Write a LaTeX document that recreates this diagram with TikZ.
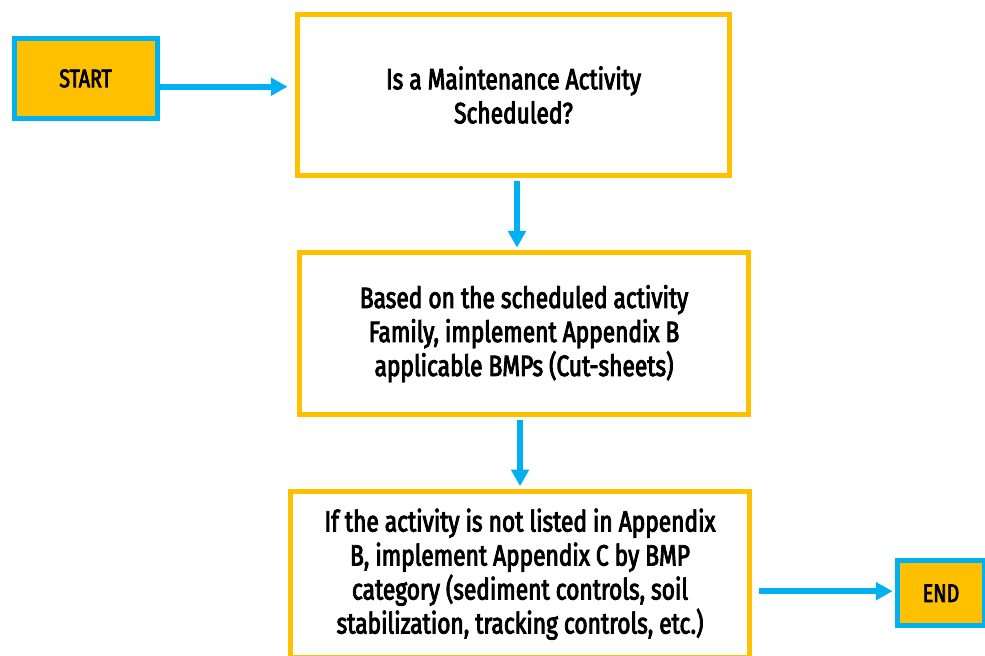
\documentclass[tikz,border=0pt]{standalone}
\usepackage{fontspec}
\setmainfont{Fira Sans}[FakeStretch=0.775,FakeBold=3]
\usepackage{tikz}
\usetikzlibrary{positioning}
\usetikzlibrary{arrows.meta}
\usepackage{xcolor}
\definecolor{flowblue}{HTML}{00B0F0}
\definecolor{flowgold}{HTML}{FFC000}

\begin{document}
\begin{tikzpicture}[x=0.75pt,y=-0.75pt,on grid,
    every node/.style={font=\fontsize{22}{25.5}\selectfont},
    stepbox/.style={draw=flowgold,line width=3.75pt,fill=white,align=center,inner sep=0pt},
    endbox/.style={draw=flowblue,line width=3.75pt,fill=flowgold,inner sep=0pt,font=\fontsize{19}{20}\selectfont},
    flow/.style={draw=flowblue,line width=4.2pt,-{Triangle[length=12.5pt,width=13pt]}}]

        \useasboundingbox (0,0) rectangle (985,656);

        \node[stepbox,minimum width=324pt,minimum height=120.75pt]  (q) at (513.5,95)
              {Is a Maintenance Activity\\Scheduled?};
        \node[stepbox,minimum width=336.75pt,minimum height=121.5pt]  (b) [below=179pt of q, xshift=7.9pt]
              {Based on the scheduled activity\\Family, implement Appendix B\\applicable BMPs (Cut-sheets)};
        \node[stepbox,minimum width=344.25pt,minimum height=124.5pt]  (c) [below=180.4pt of b, xshift=-3pt]
              {If the activity is not listed in Appendix\\B, implement Appendix C by BMP\\category (sediment controls, soil\\stabilization, tracking controls, etc.)};

        \node[endbox,minimum width=107.25pt,minimum height=60pt] (start) [left=321pt of q, yshift=12.4pt] {START};
        \node[endbox,minimum width=65.25pt,minimum height=48.75pt] (end) [right=315.75pt of c, yshift=-14.25pt] {END};

        \draw[flow,shorten >=5.6pt] ([yshift=-6.2pt]start.east) -- ([yshift=-6.2pt]start.east -| q.west);
        \draw[flow,shorten <=1.9pt,shorten >=1.9pt] ([xshift=2.6pt]q.south) -- ([xshift=2.6pt]q.south |- b.north);
        \draw[flow,shorten <=1.9pt,shorten >=1.9pt] ([xshift=-3pt]b.south) -- ([xshift=-3pt]b.south |- c.north);
        \draw[flow,shorten <=4.9pt,shorten >=1.9pt] ([yshift=-12.75pt]c.east) -- ([yshift=-12.75pt]c.east -| end.west);

      \end{tikzpicture}
\end{document}
